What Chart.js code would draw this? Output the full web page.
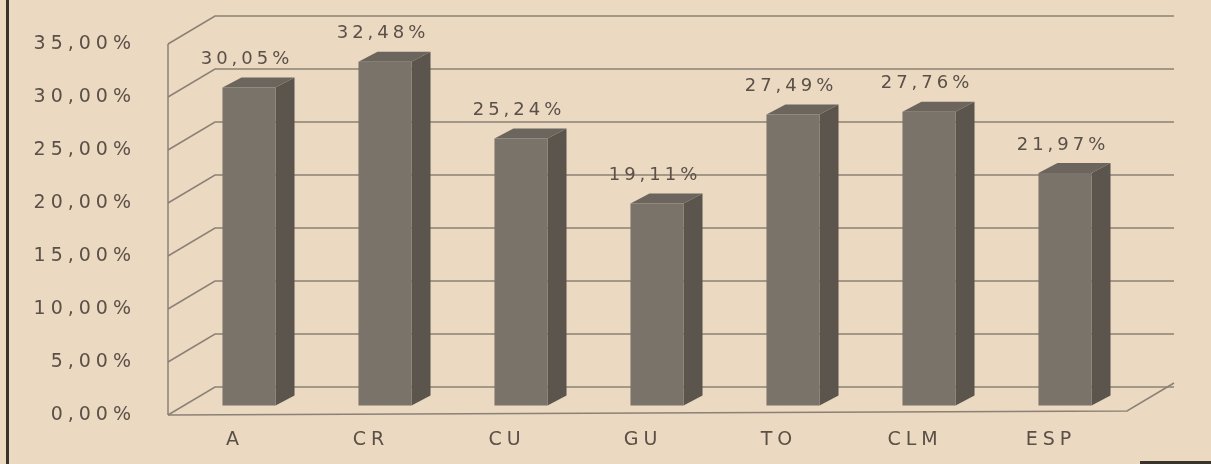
<!DOCTYPE html>
<html><head><meta charset="utf-8">
<script src="https://cdn.jsdelivr.net/npm/chart.js@4/dist/chart.umd.min.js"></script>
<style>html,body{margin:0;padding:0;background:#ebd9c1;}#wrap{width:1211px;height:464px;}</style>
</head><body><div id="wrap"><canvas id="c" width="1211" height="464"></canvas></div>
<script>
const categories = ["A", "CR", "CU", "GU", "TO", "CLM", "ESP"];
const values = [30.05, 32.48, 25.24, 19.11, 27.49, 27.76, 21.97];
const yTicks = [0, 5, 10, 15, 20, 25, 30, 35];

const fmt = v => v.toFixed(2).replace('.', ',') + '%';
const TEXT = '#5a5048';
const GRID = '#8c8176';
const DX = 47, DY = 28, LOFF = 9;
const SIDE_W = 19, SIDE_H = 10;

function spacing(chart, px){ try{ chart.ctx.letterSpacing = (px || 4) + 'px'; }catch(e){} }

const deco = {
  id: 'deco',
  beforeLayout(chart){ spacing(chart, 5); },
  beforeDraw(chart){
    const c = chart.ctx;
    spacing(chart, 5);
    c.save();
    c.fillStyle = '#ebd9c1';
    c.fillRect(0,0,chart.width,chart.height);
    c.fillStyle = '#3a332d';
    c.fillRect(6,0,3,464);
    c.fillRect(1140,461,71,3);
    c.restore();
  },
  beforeDatasetsDraw(chart){
    const c = chart.ctx, y = chart.scales.y;
    const xl = 168, xr = 1127;
    c.save();
    c.strokeStyle = GRID; c.lineWidth = 1.5;
    yTicks.forEach(t => {
      const fy = y.getPixelForValue(t) + LOFF;
      c.beginPath();
      c.moveTo(xl, fy); c.lineTo(xl+DX, fy-DY); c.lineTo(xr+DX, fy-DY);
      c.stroke();
    });
    const y0 = y.getPixelForValue(0)+LOFF, y35 = y.getPixelForValue(35)+LOFF;
    c.beginPath();
    c.moveTo(xl, y0); c.lineTo(xl, y35);
    c.stroke();
    c.beginPath();
    c.moveTo(xl, y0); c.lineTo(xr, y0-4); c.lineTo(xr+DX, y0-4-DY);
    c.stroke();
    const meta = chart.getDatasetMeta(0);
    meta.data.forEach(b => {
      const l = b.x - b.width/2, r = b.x + b.width/2, t = b.y, btm = b.base;
      c.fillStyle = '#5b554e';
      c.beginPath();
      c.moveTo(r, t); c.lineTo(r+SIDE_W, t-SIDE_H); c.lineTo(r+SIDE_W, btm-SIDE_H); c.lineTo(r, btm); c.closePath(); c.fill();
      c.fillStyle = '#6b655d';
      c.beginPath();
      c.moveTo(l, t); c.lineTo(l+SIDE_W, t-SIDE_H); c.lineTo(r+SIDE_W, t-SIDE_H); c.lineTo(r, t); c.closePath(); c.fill();
    });
    c.restore();
  },
  afterDatasetsDraw(chart){
    const c = chart.ctx;
    const meta = chart.getDatasetMeta(0);
    c.save();
    spacing(chart, 4);
    c.fillStyle = TEXT;
    c.font = '18px "DejaVu Sans"';
    c.textAlign = 'center'; c.textBaseline = 'middle';
    meta.data.forEach((b,i) => {
      c.fillText(fmt(values[i]), b.x - 2, b.y - 28);
    });
    spacing(chart, 5);
    c.restore();
  }
};

new Chart(document.getElementById('c'), {
  type: 'bar',
  data: { labels: categories, datasets: [{ data: values, backgroundColor: '#7a736a', borderWidth: 0, barPercentage: 0.39, categoryPercentage: 1 }] },
  options: {
    responsive: false, animation: false,
    layout: { padding: { left: 0, right: 78, top: 35, bottom: 0 } },
    plugins: { legend: { display: false }, tooltip: { enabled: false } },
    scales: {
      x: {
        grid: { display: true, drawOnChartArea: false, drawTicks: true, tickLength: 18, color: 'rgba(0,0,0,0)' }, border: { display: false },
        ticks: { color: TEXT, font: { family: 'DejaVu Sans', size: 19 }, padding: 5, labelOffset: -14, maxRotation: 0 },
        afterFit: s => { s.height = 58; }
      },
      y: {
        min: 0, max: 35,
        grid: { display: true, drawOnChartArea: false, drawTicks: true, tickLength: 40, color: 'rgba(0,0,0,0)' }, border: { display: false },
        ticks: { stepSize: 5, color: TEXT, font: { family: 'DejaVu Sans', size: 19 }, padding: 5, labelOffset: LOFF, callback: v => fmt(v) },
        afterFit: s => { s.width = 181; }
      }
    }
  },
  plugins: [deco]
});
</script>
</body></html>
